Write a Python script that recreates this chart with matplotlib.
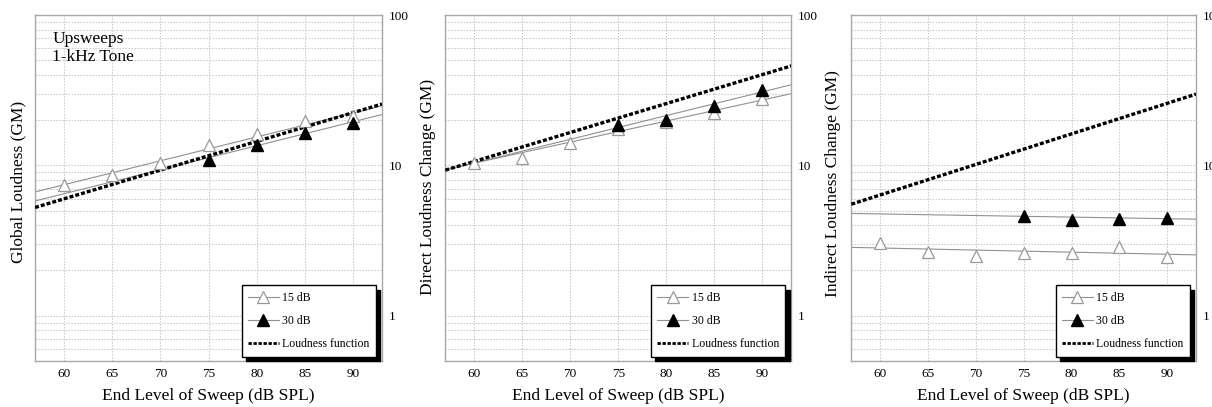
import matplotlib
matplotlib.use("Agg")
import matplotlib.pyplot as plt
from matplotlib.ticker import LogLocator, FixedLocator, NullFormatter, FuncFormatter

plt.rcParams['font.family'] = ['Liberation Serif', 'DejaVu Serif']

levels = [60, 65, 70, 75, 80, 85, 90]
levels_30 = [75, 80, 85, 90]
fit_x = [57, 93]

# Panel 1: Global loudness
global_15 = [7.4, 8.6, 10.3, 13.6, 16.3, 19.6, 21.4]
global_30 = [10.8, 13.7, 16.5, 19.0]
global_fit_15 = [6.66, 24.9]
global_fit_30 = [5.8, 21.8]
global_lf = [5.25, 25.6]

# Panel 2: Direct loudness change
direct_15 = [10.3, 11.2, 14.1, 17.5, 19.4, 22.3, 27.6]
direct_30 = [18.5, 20.0, 24.9, 31.5]
direct_fit_15 = [9.4, 30.0]
direct_fit_30 = [9.3, 34.4]
direct_lf = [9.3, 45.9]

# Panel 3: Indirect loudness change
indirect_15 = [3.03, 2.64, 2.51, 2.61, 2.60, 2.85, 2.47]
indirect_30 = [4.62, 4.34, 4.39, 4.50]
indirect_fit_15 = [2.85, 2.54]
indirect_fit_30 = [4.79, 4.39]
indirect_lf = [5.52, 29.8]

ylabels = ["Global Loudness (GM)", "Direct Loudness Change (GM)", "Indirect Loudness Change (GM)"]
xlabel = "End Level of Sweep (dB SPL)"

panels = [
    (global_15, global_30, global_fit_15, global_fit_30, global_lf),
    (direct_15, direct_30, direct_fit_15, direct_fit_30, direct_lf),
    (indirect_15, indirect_30, indirect_fit_15, indirect_fit_30, indirect_lf),
]

fig = plt.figure(figsize=(12.12, 4.07), dpi=100)
lefts = [0.0289, 0.3674, 0.7024]
widths = [0.2863, 0.2855, 0.2844]
ylab_pos = [(-0.026, 0.517), (-0.027, 0.503), (-0.030, 0.514)]

for i, (d15, d30, f15, f30, lf) in enumerate(panels):
    ax = fig.add_axes([lefts[i], 0.113, widths[i], 0.850])
    ax.set_yscale('log')
    ax.set_xlim(57, 93)
    ax.set_ylim(0.5, 100)

    ax.plot(fit_x, f15, color='#909090', lw=0.8, zorder=2)
    ax.plot(fit_x, f30, color='#909090', lw=0.8, zorder=2)
    ax.plot(fit_x, lf, color='black', lw=2.4, linestyle=(0, (1.2, 0.6)), zorder=3)
    ax.plot(levels, d15, linestyle='none', marker='^', markersize=9,
            markerfacecolor='white', markeredgecolor='#999999', markeredgewidth=0.9, zorder=4)
    ax.plot(levels_30, d30, linestyle='none', marker='^', markersize=9,
            markerfacecolor='black', markeredgecolor='black', zorder=4)

    # legend proxies
    h15, = ax.plot([], [], color='#909090', lw=0.8, marker='^', markersize=8,
                   markerfacecolor='white', markeredgecolor='#999999', markeredgewidth=0.9)
    h30, = ax.plot([], [], color='#909090', lw=0.8, marker='^', markersize=8,
                   markerfacecolor='black', markeredgecolor='black')
    hlf, = ax.plot([], [], color='black', lw=2.0, linestyle=(0, (1.2, 0.6)))
    leg = ax.legend([h15, h30, hlf], ["15 dB", "30 dB", "Loudness function"],
                    loc='lower right', bbox_to_anchor=(0.983, 0.012), borderaxespad=0,
                    fontsize=8.5,
                    frameon=True, fancybox=False, handlelength=2.6, handletextpad=0.3,
                    labelspacing=0.95, borderpad=0.55,
                    shadow={'color': 'black', 'alpha': 1, 'ox': 3, 'oy': -3})
    leg.get_frame().set_edgecolor('black')
    leg.get_frame().set_linewidth(1.0)
    leg.set_zorder(10)

    ax.xaxis.set_major_locator(FixedLocator(levels))
    ax.yaxis.set_major_locator(FixedLocator([1, 10, 100]))
    ax.yaxis.set_major_formatter(FuncFormatter(lambda v, p: f"{int(v)}"))
    ax.yaxis.set_minor_locator(LogLocator(base=10, subs=[2, 3, 4, 5, 6, 7, 8, 9], numticks=20))
    ax.yaxis.set_minor_formatter(NullFormatter())
    ax.yaxis.tick_right()
    ax.tick_params(axis='both', which='both', length=0, labelsize=9.5, pad=5)
    ax.grid(True, which='major', axis='x', color='#c2c2c2', linestyle=(0, (1.2, 1.5)), lw=0.8)
    ax.grid(True, which='both', axis='y', color='#c2c2c2', linestyle=(0, (1.2, 1.5)), lw=0.8)
    ax.set_axisbelow(True)
    for s in ax.spines.values():
        s.set_color('#a8a8a8')
        s.set_linewidth(1.0)
    ax.set_xlabel(xlabel, fontsize=12.5, labelpad=6)
    ax.set_ylabel(ylabels[i], fontsize=12.5)
    ax.yaxis.set_label_position('left')
    ax.yaxis.set_label_coords(*ylab_pos[i])

    if i == 0:
        ax.text(0.05, 0.955, "Upsweeps\n1-kHz Tone", transform=ax.transAxes,
                fontsize=12.5, va='top', ha='left', linespacing=1.2)

fig.savefig("out.png", dpi=100)
